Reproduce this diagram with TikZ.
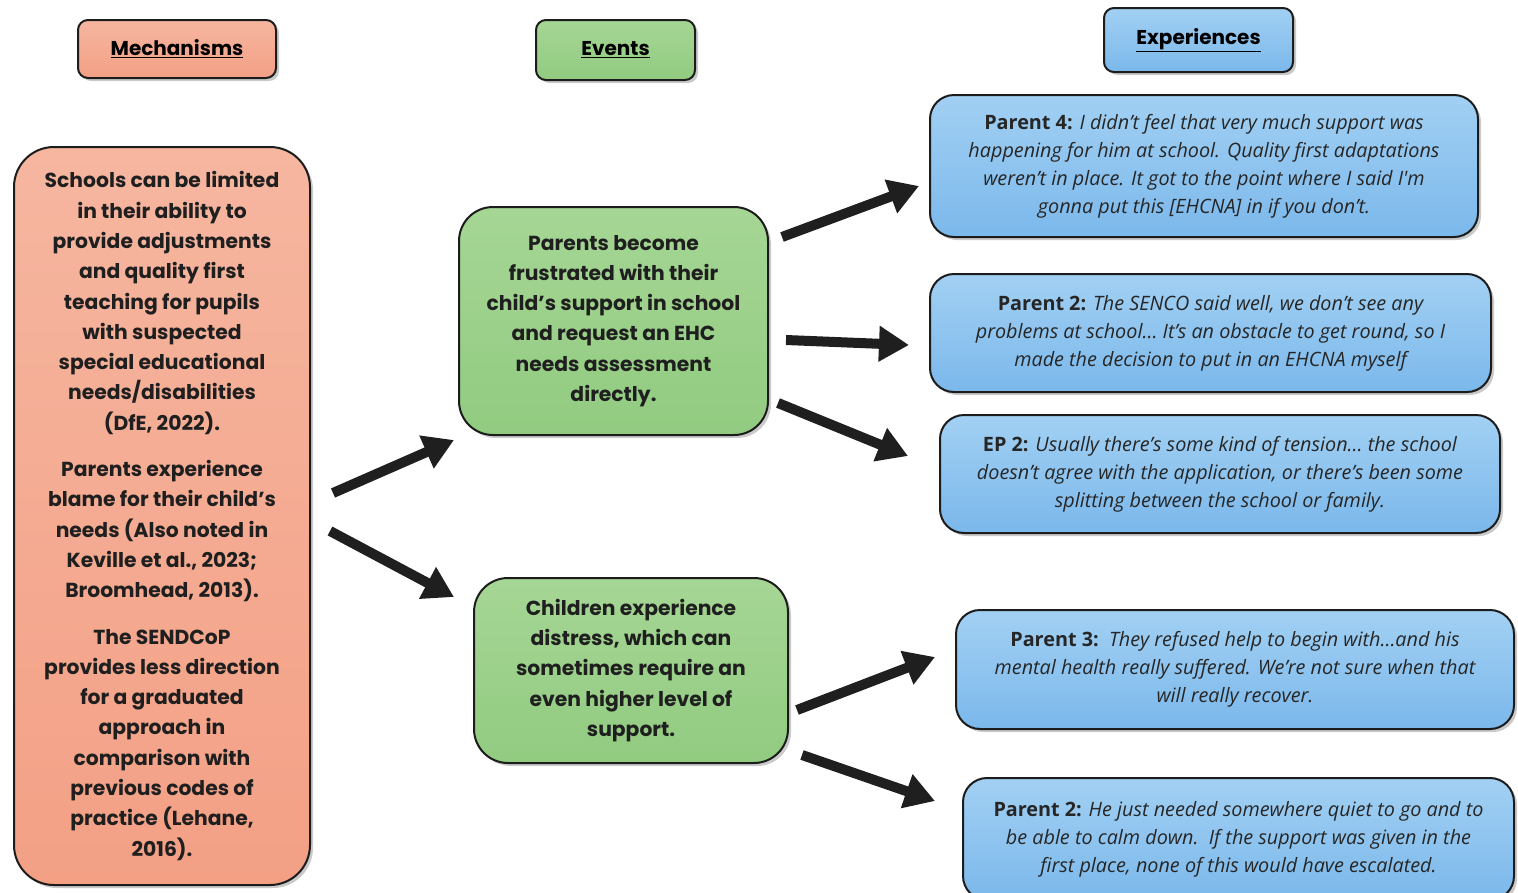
\documentclass[tikz,border=0pt]{standalone}
\usepackage{fontspec}
\setmainfont{Poppins}
\newfontfamily\quotefont{Open Sans}
\usetikzlibrary{arrows.meta,shadows}

\definecolor{edge}{HTML}{1C1C1C}
\definecolor{salmonTop}{HTML}{F6B6A0}
\definecolor{salmonBot}{HTML}{F3A085}
\definecolor{greenTop}{HTML}{A6D695}
\definecolor{greenBot}{HTML}{91CB80}
\definecolor{blueTop}{HTML}{A2D0F3}
\definecolor{blueBot}{HTML}{7BB8EB}

\newcommand{\who}[1]{{\upshape\bfseries #1}}

\tikzset{
  box/.style={rectangle, draw=edge, line width=2pt, inner sep=0pt, align=center,
    drop shadow={shadow xshift=3pt, shadow yshift=-3pt, opacity=0.35, fill=black!60}},
  mech/.style={box, top color=salmonTop, bottom color=salmonBot},
  evt/.style={box, top color=greenTop, bottom color=greenBot},
  expr/.style={box, top color=blueTop, bottom color=blueBot, rounded corners=24pt,
    font=\quotefont\itshape\fontsize{19.8}{28}\selectfont, text=black!85},
  head/.style={font=\bfseries\fontsize{20}{24}\selectfont, rounded corners=10pt},
  bodytext/.style={font=\bfseries\fontsize{20.3}{30.3}\selectfont, text=black!88},
  bigarrow/.style={line width=10pt, draw=black!88, -{Triangle[length=30pt,width=34pt]}}
}

\begin{document}
\begin{tikzpicture}[x=1pt,y=-1pt]
\useasboundingbox (0,0) rectangle (1518,892);

% column headings
\node[mech, head, minimum width=198pt, minimum height=58pt] (hm) at (177,49) {\underline{Mechanisms}};
\node[evt, head, minimum width=159pt, minimum height=60pt] (he) at (615.5,50) {\underline{Events}};
\node[box, top color=blueTop, bottom color=blueBot, head, minimum width=189pt, minimum height=64pt] (hx) at (1198.5,40) {\underline{Experiences}};

% mechanisms
\node[mech, bodytext, rounded corners=40pt, minimum width=296pt, minimum height=738pt] (mech) at (162,516) {%
Schools can be limited\\in their ability to\\provide adjustments\\and quality first\\teaching for pupils\\with suspected\\special educational\\needs/disabilities\\(DfE, 2022).\\[16pt]
Parents experience\\blame for their child’s\\needs (Also noted in\\Keville et al., 2023;\\Broomhead, 2013).\\[16pt]
The SENDCoP\\provides less direction\\for a graduated\\approach in\\comparison with\\previous codes of\\practice (Lehane,\\2016).};

% events
\node[evt, bodytext, rounded corners=34pt, minimum width=309pt, minimum height=228pt] (ev1) at (613.5,321) {%
Parents become\\frustrated with their\\child’s support in school\\and request an EHC\\needs assessment\\directly.};
\node[evt, bodytext, rounded corners=34pt, minimum width=314pt, minimum height=185pt] (ev2) at (631,670.5) {%
Children experience\\distress, which can\\sometimes require an\\even higher level of\\support.};

% experiences
\node[expr, minimum width=548pt, minimum height=142pt] (x1) at (1204,166) {%
\who{Parent 4:} I didn’t feel that very much support was\\happening for him at school. Quality first adaptations\\weren’t in place. It got to the point where I said I'm\\gonna put this [EHCNA] in if you don’t.};
\node[expr, minimum width=561pt, minimum height=118pt] (x2) at (1210.5,333) {%
\who{Parent 2:} The SENCO said well, we don’t see any\\problems at school… It’s an obstacle to get round, so I\\made the decision to put in an EHCNA myself};
\node[expr, minimum width=560pt, minimum height=118pt] (x3) at (1220,474) {%
\who{EP 2:} Usually there’s some kind of tension… the school\\doesn’t agree with the application, or there’s been some\\splitting between the school or family.};
\node[expr, minimum width=558pt, minimum height=119pt] (x4) at (1235,669.5) {%
\who{Parent 3:}\ \ They refused help to begin with…and his\\mental health really suffered. We’re not sure when that\\will really recover.};
\node[expr, minimum width=551pt, minimum height=122pt] (x5) at (1238.5,839) {%
\who{Parent 2:} He just needed somewhere quiet to go and to\\be able to calm down.\ \ If the support was given in the\\first place, none of this would have escalated.};

% arrow ends
\coordinate (a1s) at (333,493);  \coordinate (a1e) at (454,440);
\coordinate (a2s) at (330,531);  \coordinate (a2e) at (454,597);
\coordinate (a3s) at (782,237);  \coordinate (a3e) at (919,186);
\coordinate (a4s) at (786,340);  \coordinate (a4e) at (909,345);
\coordinate (a5s) at (778,403);  \coordinate (a5e) at (908,456);
\coordinate (a6s) at (797,710);  \coordinate (a6e) at (935,657);
\coordinate (a7s) at (802,755);  \coordinate (a7e) at (935,801);

\draw[bigarrow] (a1s) -- (a1e);
\draw[bigarrow] (a2s) -- (a2e);
\draw[bigarrow] (a3s) -- (a3e);
\draw[bigarrow] (a4s) -- (a4e);
\draw[bigarrow] (a5s) -- (a5e);
\draw[bigarrow] (a6s) -- (a6e);
\draw[bigarrow] (a7s) -- (a7e);
\end{tikzpicture}
\end{document}
